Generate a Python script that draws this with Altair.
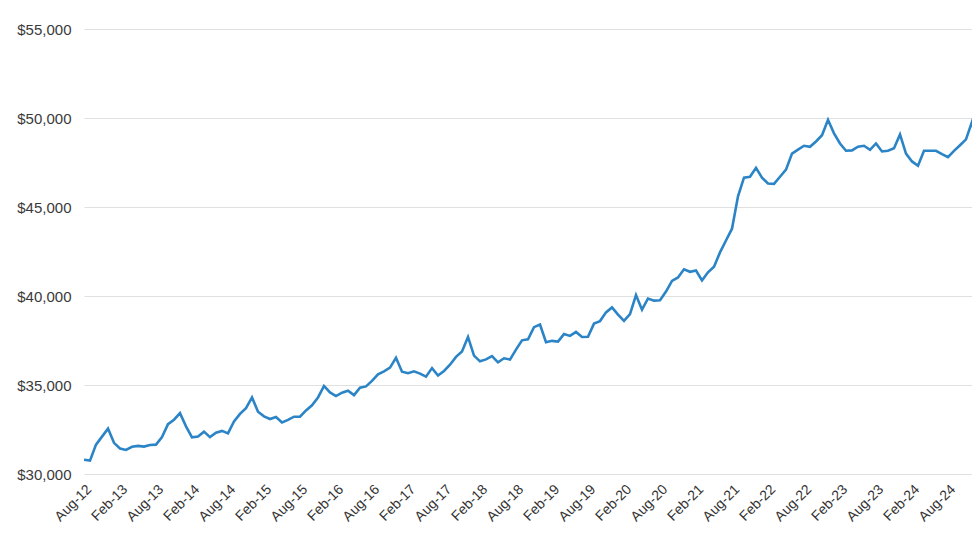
import json

import altair as alt
import pandas as pd

# monthly values, Aug-12 onwards (one per month)
values = [
    30800, 30750, 31650, 32100, 32550, 31750, 31430, 31350, 31530, 31580,
    31540, 31630, 31650, 32070, 32800, 33050, 33420, 32680, 32060, 32100,
    32380, 32070, 32320, 32420, 32280, 32950, 33380, 33700, 34300, 33500,
    33240, 33090, 33200, 32900, 33040, 33220, 33220, 33570, 33860, 34300,
    34950, 34580, 34380, 34570, 34680, 34430, 34850, 34920, 35230, 35600,
    35770, 35980, 36530, 35750, 35660, 35770, 35640, 35470, 35950, 35530,
    35790, 36140, 36580, 36880, 37700, 36650, 36330, 36440, 36620, 36270,
    36500, 36430, 36990, 37510, 37570, 38250, 38400, 37400, 37480, 37440,
    37860, 37760, 37980, 37700, 37710, 38450, 38590, 39080, 39360, 38950,
    38600, 38980, 40050, 39230, 39860, 39740, 39760, 40250, 40850, 41040,
    41500, 41360, 41430, 40870, 41330, 41650, 42450, 43120, 43780, 45600,
    46650, 46700, 47200, 46650, 46320, 46300, 46700, 47100, 48000, 48220,
    48440, 48380, 48680, 49030, 49900, 49140, 48570, 48160, 48180, 48390,
    48440, 48210, 48570, 48120, 48160, 48300, 49080, 48000, 47560, 47320,
    48160, 48160, 48160, 47970, 47800, 48150, 48470, 48800, 49790, 48150,
]

tick_labels = [
    "Aug-12", "Feb-13", "Aug-13", "Feb-14", "Aug-14", "Feb-15", "Aug-15",
    "Feb-16", "Aug-16", "Feb-17", "Aug-17", "Feb-18", "Aug-18", "Feb-19",
    "Aug-19", "Feb-20", "Aug-20", "Feb-21", "Aug-21", "Feb-22", "Aug-22",
    "Feb-23", "Aug-23", "Feb-24", "Aug-24", "Feb-25",
]

y_ticks = [30000, 35000, 40000, 45000, 50000, 55000]

df = pd.DataFrame({"m": list(range(len(values))), "v": values})

# the page is cut at the right edge, so the x scale stops just short of the last month
chart = alt.Chart(df).mark_line(color="#2b84c6", strokeWidth=2.6, clip=True).encode(
    x=alt.X(
        "m:Q",
        scale=alt.Scale(domain=[0, 148], nice=False, zero=False),
        axis=alt.Axis(
            values=[i * 6 for i in range(len(tick_labels) - 1)],
            labelExpr=f"{json.dumps(tick_labels)}[round(datum.value / 6)]",
            labelAngle=-45,
            labelAlign="right",
            labelBaseline="top",
            labelPadding=8,
            labelOverlap=False,
            labelBound=False,
            labelFont="Liberation Sans",
            labelFontSize=14,
            labelColor="#333333",
            grid=False,
            domain=False,
            ticks=False,
            title=None,
        ),
    ),
    y=alt.Y(
        "v:Q",
        scale=alt.Scale(domain=[30000, 55000], nice=False, zero=False),
        axis=alt.Axis(
            values=y_ticks,
            format="$,.0f",
            labelFont="Liberation Sans",
            labelFontSize=15,
            labelColor="#3a3a3a",
            labelPadding=13,
            grid=True,
            gridColor="#e0e0e0",
            domain=False,
            ticks=False,
            title=None,
        ),
    ),
).properties(
    width=888,
    height=445,
    autosize="none",
    padding={"left": 76, "top": 21, "right": 0, "bottom": 70},
).configure_view(stroke=None)

chart.save("out.html", embed_options={"renderer": "svg", "actions": False})
